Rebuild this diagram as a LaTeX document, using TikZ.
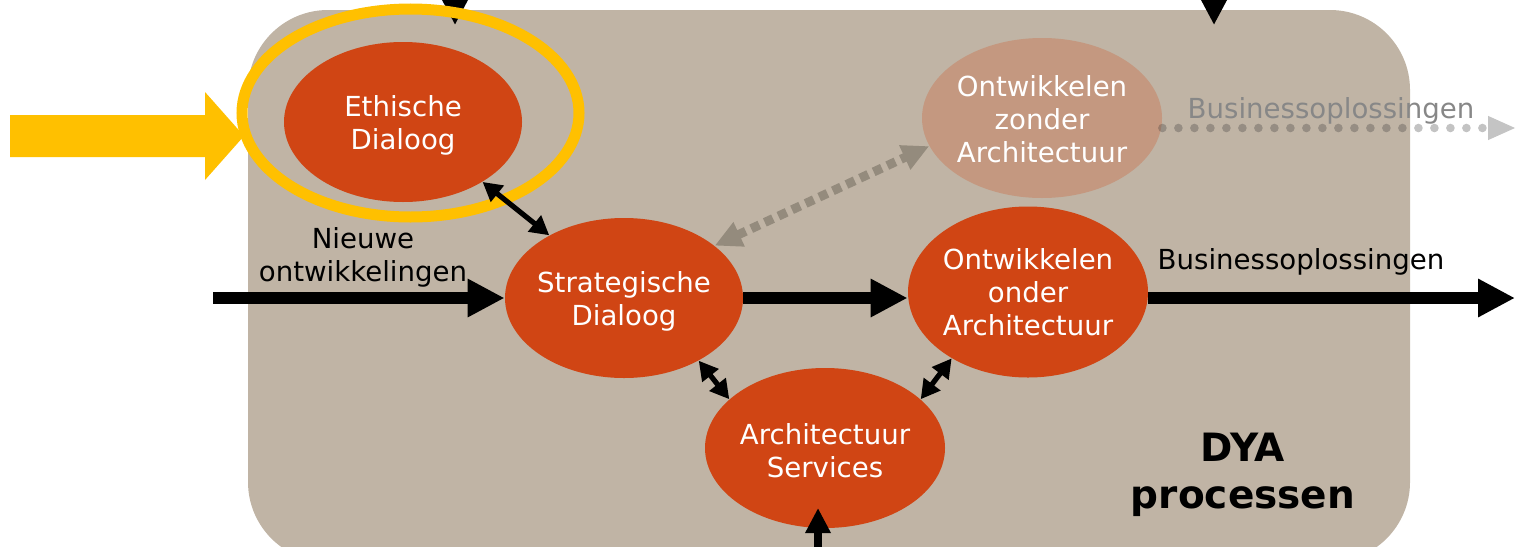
\documentclass[tikz,border=0pt]{standalone}
\usepackage{fontspec}
\setmainfont{DejaVu Sans}
\usetikzlibrary{arrows.meta,shapes.geometric}
\definecolor{tanbg}{RGB}{192,180,165}
\definecolor{rust}{RGB}{208,69,20}
\definecolor{pale}{RGB}{196,152,128}
\definecolor{gold}{RGB}{255,192,0}
\definecolor{dgray}{RGB}{148,139,125}
\definecolor{lgray}{RGB}{135,135,135}
\definecolor{dotgray}{RGB}{49,49,49}
\definecolor{tipgray}{RGB}{196,196,196}
\begin{document}
\begin{tikzpicture}[x=0.5pt,y=-0.5pt,
  proc/.style={ellipse,fill=rust,draw=none,inner sep=0pt,minimum width=119pt,minimum height=80pt},
  proctext/.style={text=white,align=center,inner sep=0pt,font=\fontsize{13.8}{16.5}\selectfont},
  lbl/.style={align=center,inner sep=0pt,font=\fontsize{13.8}{16.5}\selectfont},
  bigarrow/.style={line width=6pt,-{Triangle[length=18.5pt,width=18pt]}},
  thinarrow/.style={line width=4pt,-{Triangle[length=12.5pt,width=12pt]}},
  dbl/.style={line width=2.6pt,{Triangle[length=9.5pt,width=10pt]}-{Triangle[length=9.5pt,width=10pt]}},
  dashedarrow/.style={dgray,line width=4.5pt,dash pattern=on 4.5pt off 3pt,{Triangle[length=13.5pt,width=12.5pt]}-{Triangle[length=13.5pt,width=12.5pt]}},
  dotline/.style={dotgray,opacity=0.29,line width=4.3pt,line cap=round,dash pattern=on 0pt off 8pt},
  dottip/.style={tipgray,line width=0.5pt,-{Triangle[length=13.5pt,width=12pt]}}
]
\useasboundingbox (0,0) rectangle (1518,546);
\clip (0,0) rectangle (1518,546);
% background panel
\fill[tanbg, rounded corners=40pt] (248,10) rectangle (1410,562);
% yellow block arrow
\fill[gold] (10,115) -- (205,115) -- (205,92) -- (244,136) -- (205,180) -- (205,157) -- (10,157) -- cycle;
% process ellipses
\node[proc, label={[proctext,yshift=-1.5pt]center:Ethische\\Dialoog}] (eth) at (403,122) {};
\node[proc, label={[proctext,yshift=-1.5pt]center:Strategische\\Dialoog}] (strat) at (624,298) {};
\node[proc, minimum width=120pt, minimum height=85.5pt, label={[proctext]center:Ontwikkelen\\onder\\Architectuur}] (onder) at (1028,292) {};
\node[proc, minimum width=120pt, label={[proctext,yshift=-1.5pt]center:Architectuur\\Services}] (serv) at (825,448) {};
\node[proc, fill=pale, minimum width=120pt, label={[proctext,yshift=-0.5pt]center:Ontwikkelen\\zonder\\Architectuur}] (zonder) at (1042,118) {};
% arrows coming from above
\coordinate (t1s) at (455,-40);
\coordinate (t1e) at (455,25);
\coordinate (t2s) at (1214,-40);
\coordinate (t2e) at (1214,25);
\draw[thinarrow] (t1s) -- (t1e);
\draw[thinarrow] (t2s) -- (t2e);
% highlight ring
\draw[gold, line width=5.5pt] (410.5,113) ellipse [x radius=84.25pt, y radius=52pt];
% main flow
\coordinate (inL) at (213,298);
\coordinate (outR) at (1515,298);
\draw[bigarrow] (inL) -- (strat.west |- inL);
\draw[bigarrow] (strat.east |- inL) -- (onder.west |- inL);
\draw[bigarrow] (onder.east |- outR) -- (outR);
% bottom arrow
\coordinate (bs) at (818,580);
\coordinate (bt) at (818,508);
\draw[thinarrow] (bs) -- (bt);
% double arrows
\draw[dbl] (eth.-37) -- (strat.140.7);
\draw[dbl] (strat.-40) -- (serv.153);
\draw[dbl] (serv.27) -- (onder.221);
% dashed double arrow
\draw[dashedarrow] (strat.30) -- (zonder.194);
% dotted arrow
\coordinate (dotBase) at (1488,128);
\coordinate (dotEnd) at (1515,128);
\draw[dotline] (zonder.east |- dotEnd) -- (dotBase);
\draw[dottip] (dotBase) -- (dotEnd);
% labels
\node[lbl] (nieuwe) at (363,257) {Nieuwe\\ontwikkelingen};
\node[lbl] (bus1) at (1301,262) {Businessoplossingen};
\node[lbl, text=lgray] (bus2) at (1331,111) {Businessoplossingen};
\node[align=center,inner sep=0pt,font=\bfseries\fontsize{19.5}{23.5}\selectfont] (dya) at (1243,475) {DYA\\processen};
\end{tikzpicture}
\end{document}
